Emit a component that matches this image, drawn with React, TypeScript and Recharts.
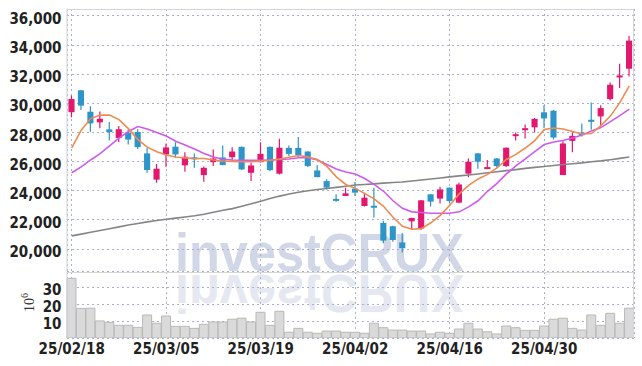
import React from 'react';
import { Bar, BarChart, CartesianGrid, ComposedChart, Line, XAxis, YAxis } from 'recharts';

// trading days shown on the chart
const dates = [
  '25/02/18', '25/02/19', '25/02/20', '25/02/21', '25/02/24', '25/02/25', '25/02/26', '25/02/27', '25/02/28', '25/03/04',
  '25/03/05', '25/03/06', '25/03/07', '25/03/10', '25/03/11', '25/03/12', '25/03/13', '25/03/14', '25/03/17', '25/03/18',
  '25/03/19', '25/03/20', '25/03/21', '25/03/24', '25/03/25', '25/03/26', '25/03/27', '25/03/28', '25/03/31', '25/04/01',
  '25/04/02', '25/04/03', '25/04/04', '25/04/07', '25/04/08', '25/04/09', '25/04/10', '25/04/11', '25/04/14', '25/04/15',
  '25/04/16', '25/04/17', '25/04/18', '25/04/21', '25/04/22', '25/04/23', '25/04/24', '25/04/25', '25/04/28', '25/04/29',
  '25/04/30', '25/05/02', '25/05/07', '25/05/08', '25/05/09', '25/05/12', '25/05/13', '25/05/14', '25/05/15', '25/05/16',
];

const opens = [
  29400, 30900, 29430, 28700, 28220, 27630, 28000, 28040, 26570, 24770,
  26500, 27030, 25750, 26300, 25080, 25970, 26290, 26310, 27020, 25240,
  25970, 27020, 25180, 26950, 26950, 26700, 25400, 24670, 23450, 23650,
  24150, 22960, 22980, 21800, 21570, 20460, 21910, 21410, 23760, 23470,
  24220, 23190, 25180, 26570, 25520, 26220, 25700, 27770, 28180, 28360,
  29390, 29500, 25080, 27430, 28000, 28880, 29110, 30300, 31830, 32380,
];

const highs = [
  30550, 30920, 29800, 29450, 28730, 28450, 28230, 28230, 26950, 25840,
  27250, 27340, 26650, 26560, 25670, 26840, 27110, 27000, 27040, 25930,
  27340, 27040, 27570, 27110, 27700, 26720, 25770, 24790, 23760, 24220,
  24600, 23830, 24220, 21950, 21600, 21090, 22150, 23370, 23790, 24290,
  24230, 24560, 26220, 26600, 26110, 26250, 26980, 28000, 28550, 29000,
  29880, 29550, 27400, 28000, 28620, 30070, 29880, 31440, 32720, 34650,
];

const lows = [
  29050, 29550, 28050, 28300, 27450, 27360, 27180, 26880, 25250, 24560,
  25660, 26270, 25310, 25580, 24630, 25700, 25760, 25980, 25450, 24670,
  25950, 25350, 25130, 26400, 26270, 25630, 24930, 24100, 23260, 23640,
  23650, 22920, 22170, 20410, 20500, 19770, 21330, 21320, 22920, 23130,
  23130, 23150, 24940, 25520, 25510, 25580, 25630, 27450, 27590, 28000,
  28320, 27520, 25080, 26650, 27730, 28200, 28470, 30200, 31060, 31850,
];

const closes = [
  30300, 29850, 28630, 28950, 28040, 28230, 27520, 27000, 25430, 25520,
  26980, 26500, 26340, 26180, 25580, 26220, 25770, 26700, 25470, 25740,
  26540, 25420, 26960, 26540, 26450, 25700, 24940, 24220, 23400, 23830,
  23880, 23530, 22940, 20590, 20630, 20070, 22140, 23350, 23260, 24100,
  23300, 24440, 26000, 26000, 25630, 25700, 26960, 27890, 28300, 28940,
  28970, 27660, 27250, 27770, 27820, 28740, 29680, 31280, 31920, 34310,
];

// moving averages (5, 20, 60 days)
const ma5 = [
  26950, 28160, 28960, 29210, 29200, 28890, 28270, 27520, 27000, 26680,
  26460, 26320, 26260, 26220, 26220, 26120, 26050, 26020, 26000, 26000,
  26040, 26100, 26190, 26310, 26430, 26320, 26150, 25680, 24960, 24440,
  24170, 23830, 23450, 22940, 22190, 21570, 21370, 21410, 21810, 22320,
  23010, 23790, 24380, 24820, 25130, 25570, 26150, 26500, 26940, 27450,
  28210, 28310, 28240, 28070, 27900, 27930, 28480, 29130, 30050, 31210,
];

const ma20 = [
  25240, 25640, 26120, 26560, 27080, 27620, 28070, 28410, 28240, 28000,
  27760, 27400, 27150, 26870, 26560, 26320, 26170, 26120, 26100, 26100,
  26100, 26120, 26150, 26190, 26270, 26270, 26120, 25810, 25500, 25300,
  25160, 24850, 24440, 23970, 23320, 22800, 22560, 22510, 22460, 22460,
  22460, 22560, 22900, 23320, 23970, 24510, 25160, 25710, 26190, 26700,
  27180, 27350, 27450, 27620, 27830, 28100, 28340, 28750, 29160, 29610,
];

const ma60 = [
  20910, 21030, 21160, 21280, 21400, 21530, 21660, 21760, 21870, 21970,
  22050, 22130, 22210, 22290, 22390, 22530, 22670, 22780, 22950, 23110,
  23290, 23470, 23640, 23790, 23910, 24010, 24090, 24160, 24240, 24320,
  24400, 24440, 24480, 24530, 24570, 24610, 24680, 24740, 24810, 24880,
  24960, 25030, 25090, 25160, 25240, 25310, 25390, 25460, 25540, 25610,
  25670, 25740, 25810, 25860, 25920, 26000, 26060, 26140, 26230, 26320,
];

// volume, in millions of shares
const volumes = [
  35.3, 17.5, 17.6, 10.1, 9.3, 7.5, 7.5, 6.3, 13.6, 8.7,
  13.0, 6.9, 6.9, 5.7, 8.1, 9.5, 9.5, 11.1, 11.7, 9.5,
  15.2, 7.5, 15.8, 3.4, 5.7, 3.4, 2.8, 4.1, 4.1, 3.4,
  3.4, 2.8, 8.7, 6.1, 4.7, 4.7, 4.1, 4.1, 2.4, 3.4,
  2.8, 5.3, 8.7, 5.3, 3.7, 2.4, 7.1, 6.1, 4.5, 4.5,
  7.1, 11.1, 11.7, 5.7, 4.7, 13.6, 7.5, 14.6, 8.7, 17.6,
];

const priceTicks = [20000, 22000, 24000, 26000, 28000, 30000, 32000, 34000, 36000];
const volumeTicks = [10, 20, 30];

const data = dates.map((date, i) => ({
  date,
  range: [lows[i], highs[i]],
  open: opens[i],
  high: highs[i],
  low: lows[i],
  close: closes[i],
  ma5: ma5[i],
  ma20: ma20[i],
  ma60: ma60[i],
  volume: volumes[i],
}));

const UP = '#e2186e';
const DOWN = '#2d95c9';
const GRID = '#a9b0c8';
const LABEL_FONT = '"Liberation Sans Narrow", "DejaVu Sans Condensed", sans-serif';

const Candle = (props: any) => {
  const { x, y, width, height, payload } = props;
  if (!payload) return null;
  const top = Math.min(y, y + height);
  const bottom = Math.max(y, y + height);
  const k = (bottom - top) / (payload.high - payload.low || 1);
  const yOf = (v: number) => top + (payload.high - v) * k;
  const cx = x + width / 2;
  const bw = width * 0.68;
  const color = payload.close >= payload.open ? UP : DOWN;
  const bodyTop = yOf(Math.max(payload.open, payload.close));
  const bodyH = Math.max(yOf(Math.min(payload.open, payload.close)) - bodyTop, 2);
  return (
    <g>
      <line x1={cx} x2={cx} y1={top} y2={bottom} stroke={color} strokeWidth={1.2} />
      <rect x={cx - bw / 2} y={bodyTop} width={bw} height={bodyH} fill={color} />
    </g>
  );
};

const ValueTick = (props: any) => {
  const { x, y, payload } = props;
  return (
    <text x={x - 5.5} y={y + 8} textAnchor="end" fontFamily={LABEL_FONT} fontSize={15} fontWeight="bold" fill="#222">
      {Number(payload.value).toLocaleString('en-US')}
    </text>
  );
};

const DateTick = (props: any) => {
  const { x, y, payload } = props;
  return (
    <text x={x} y={y + 16} textAnchor="middle" fontFamily={LABEL_FONT} fontSize={15} fontWeight="bold" fill="#222">
      {payload.value}
    </text>
  );
};

// the price panel keeps its date ticks for the grid but shows no labels
const NoTick = () => <g />;

const Watermark = () => (
  <svg width={642} height={366} style={{ position: 'absolute', left: 0, top: 0 }}>
    <text x={175} y={271} fontFamily="Liberation Sans, Arial, sans-serif" fontWeight="bold" fontSize={54}
      textLength={289} lengthAdjust="spacingAndGlyphs" fill="#d1d7e7">
      investCRUX
    </text>
    <g transform="translate(0,546) scale(1,-1)">
      <text x={175} y={271} fontFamily="Liberation Sans, Arial, sans-serif" fontWeight="bold" fontSize={54}
        textLength={289} lengthAdjust="spacingAndGlyphs" fill="#e5e8f1">
        investCRUX
      </text>
    </g>
    <text transform="translate(34,312) rotate(-90)" fontFamily="Liberation Serif, serif" fontSize={14} fill="#333">
      10<tspan dy={-6} fontSize={10}>6</tspan>
    </text>
  </svg>
);

export default function App() {
  return (
    <div style={{ position: 'absolute', left: 0, top: 0, width: 642, height: 366, background: '#fff' }}>
      <Watermark />
      <div style={{ position: 'absolute', left: 0, top: 0 }}>
        <ComposedChart width={642} height={272} data={data} margin={{ top: 9, right: 8, bottom: 0, left: 0 }} barCategoryGap={0}>
          <CartesianGrid stroke={GRID} strokeDasharray="2 3" strokeWidth={1} shapeRendering="crispEdges" />
          <XAxis dataKey="date" interval={9} height={1} tickSize={0} tickMargin={0} tick={<NoTick />}
            tickLine={false} axisLine={false} />
          <YAxis domain={[18500, 36480]} ticks={priceTicks} interval={0} width={67} tickSize={0} tickMargin={0}
            tick={<ValueTick />} tickLine={false} axisLine={{ stroke: '#cfd2de' }} allowDataOverflow />
          <Bar dataKey="range" shape={<Candle />} isAnimationActive={false} />
          <Line dataKey="ma60" stroke="#858585" strokeWidth={1.6} dot={false} isAnimationActive={false} />
          <Line dataKey="ma20" stroke="#cc5bf0" strokeWidth={1.6} dot={false} isAnimationActive={false} />
          <Line dataKey="ma5" stroke="#ef8a50" strokeWidth={1.6} dot={false} isAnimationActive={false} />
        </ComposedChart>
      </div>
      <div style={{ position: 'absolute', left: 0, top: 272 }}>
        <BarChart width={642} height={94} data={data} margin={{ top: 0, right: 8, bottom: 0, left: 0 }} barCategoryGap={0}>
          <CartesianGrid stroke={GRID} strokeDasharray="2 3" strokeWidth={1} shapeRendering="crispEdges" />
          <XAxis dataKey="date" interval={9} height={28} tickSize={0} tickMargin={0} tick={<DateTick />}
            tickLine={false} axisLine={false} />
          <YAxis domain={[0, 39]} ticks={volumeTicks} interval={0} width={67} tickSize={0} tickMargin={0}
            tick={<ValueTick />} tickLine={false} axisLine={{ stroke: '#cfd2de' }} allowDataOverflow />
          <Bar dataKey="volume" fill="#dadada" stroke="#b9b9b9" strokeWidth={1} isAnimationActive={false} />
        </BarChart>
      </div>
      <div style={{ position: 'absolute', left: 67, top: 9, width: 566, height: 328, borderTop: '1px solid #d6d6d6', borderRight: '1px solid #d6d6d6' }} />
      <div style={{ position: 'absolute', left: 67, top: 272, width: 567, height: 1, background: '#d6d6d6' }} />
    </div>
  );
}
